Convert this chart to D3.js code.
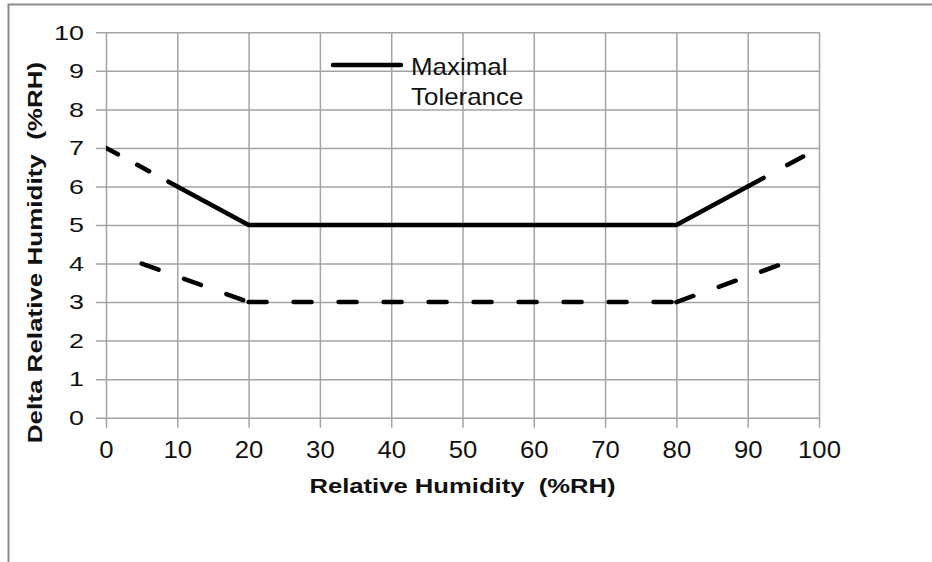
<!DOCTYPE html>
<html>
<head>
<meta charset="utf-8">
<script src="https://cdn.jsdelivr.net/npm/d3@7"></script>
<style>
    body { margin: 0; background: #fff; }
    svg { display: block; font-family: "Liberation Sans", Arial, sans-serif; }
</style>
</head>
<body>
<svg id="chart" width="932" height="562"></svg>
<script>
// data
var xTicks = [0, 10, 20, 30, 40, 50, 60, 70, 80, 90, 100];
var yTicks = [0, 1, 2, 3, 4, 5, 6, 7, 8, 9, 10];

var maxTolX = [10, 20, 80, 90];
var maxTolY = [6, 5, 5, 6];

var upperLeftX = [0, 10];
var upperLeftY = [7, 6];

var upperRightX = [90, 100];
var upperRightY = [6, 7];

var lowerX = [5, 20, 80, 95];
var lowerY = [4, 3, 3, 4];

var legendLabel = ["Maximal", "Tolerance"];

// series, drawn in this order (solid last so it sits on top)
var series = [
    {name: "upperLeft", xs: upperLeftX, ys: upperLeftY, dash: "13.5,22"},
    {name: "upperRight", xs: upperRightX, ys: upperRightY, dash: "18,27"},
    {name: "lower", xs: lowerX, ys: lowerY, dash: "18,27"},
    {name: "maxTol", xs: maxTolX, ys: maxTolY, dash: null}
];

var margin = {top: 32.3, left: 106};
var width = 713, height = 385.4;

var svg = d3.select("#chart");

// outer frame, only left and top edges are inside the picture
svg.append("rect")
    .attr("x", 8.5).attr("y", 4.5)
    .attr("width", 1000).attr("height", 1000)
    .attr("fill", "none")
    .attr("stroke", "#8c8c8c")
    .attr("stroke-width", 2);

var g = svg.append("g").attr("transform", "translate(" + margin.left + "," + margin.top + ")");

var x = d3.scaleLinear().domain([0, 100]).range([0, width]);
var y = d3.scaleLinear().domain([0, 10]).range([height, 0]);

// glyphs in the reference are drawn wider than normal
function widen(sel, k) {
    sel.each(function() {
        var len = this.getComputedTextLength();
        d3.select(this).attr("textLength", len * k).attr("lengthAdjust", "spacingAndGlyphs");
    });
}

// x axis: ticks run from the top of the plot down past the bottom -> grid + tick marks
var xAxis = g.append("g")
    .call(d3.axisBottom(x).tickValues(xTicks).tickSize(height + 10).tickPadding(13).tickFormat(d3.format("d")));
xAxis.select(".domain").remove();
xAxis.selectAll("line").attr("stroke", "#a3a3a3").attr("stroke-width", 1.5);
xAxis.selectAll("text").attr("font-size", 24).attr("fill", "#111").style("font-family", "inherit");
widen(xAxis.selectAll("text"), 1.07);

// y axis: anchored on the right edge, ticks run left past the plot
var yAxis = g.append("g")
    .attr("transform", "translate(" + width + ",0)")
    .call(d3.axisLeft(y).tickValues(yTicks).tickSize(width + 10).tickPadding(12).tickFormat(d3.format("d")));
yAxis.select(".domain").remove();
yAxis.selectAll("line").attr("stroke", "#a3a3a3").attr("stroke-width", 1.5);
yAxis.selectAll("text").attr("font-size", 21).attr("fill", "#111").style("font-family", "inherit");
widen(yAxis.selectAll("text"), 1.28);

// clip lines to plot area
svg.append("defs").append("clipPath").attr("id", "plotClip")
    .append("rect").attr("width", width).attr("height", height);

var linesG = g.append("g").attr("clip-path", "url(#plotClip)");

// excel restarts the dash pattern at every point, so draw segment by segment
series.forEach(function(s) {
    var segs = d3.range(s.xs.length - 1).map(function(i) {
        return [[s.xs[i], s.ys[i]], [s.xs[i + 1], s.ys[i + 1]]];
    });
    var sg = linesG.append("g").attr("class", "series-" + s.name);
    if (s.dash) {
        sg.selectAll("line").data(segs).enter().append("line")
            .attr("x1", function(d) { return x(d[0][0]); })
            .attr("y1", function(d) { return y(d[0][1]); })
            .attr("x2", function(d) { return x(d[1][0]); })
            .attr("y2", function(d) { return y(d[1][1]); })
            .attr("stroke", "#000")
            .attr("stroke-width", 4.5)
            .attr("stroke-linecap", "round")
            .attr("stroke-dasharray", s.dash);
    } else {
        var pts = s.xs.map(function(v, i) { return [v, s.ys[i]]; });
        sg.append("path")
            .attr("d", d3.line().x(function(d) { return x(d[0]); }).y(function(d) { return y(d[1]); })(pts))
            .attr("fill", "none")
            .attr("stroke", "#000")
            .attr("stroke-width", 4.5)
            .attr("stroke-linejoin", "round");
    }
});

// legend
var leg = svg.append("g").attr("transform", "translate(333,65)");
leg.append("line")
    .attr("x1", 0).attr("x2", 68)
    .attr("stroke", "#000").attr("stroke-width", 4.5).attr("stroke-linecap", "round");
leg.selectAll("text").data(legendLabel).enter().append("text")
    .attr("x", 78)
    .attr("y", function(d, i) { return 10 + i * 30; })
    .attr("font-size", 24)
    .attr("fill", "#111")
    .text(function(d) { return d; });
widen(leg.selectAll("text"), 1.08);

// axis titles
var xTitle = svg.append("text")
    .attr("x", margin.left + width / 2)
    .attr("y", 492.7)
    .attr("text-anchor", "middle")
    .attr("font-size", 21)
    .attr("font-weight", "bold")
    .attr("fill", "#111")
    .style("white-space", "pre")
    .text("Relative Humidity  (%RH)");
widen(xTitle, 1.22);

var yTitle = svg.append("text")
    .attr("transform", "translate(41.7,252.5) rotate(-90)")
    .attr("text-anchor", "middle")
    .attr("font-size", 20)
    .attr("font-weight", "bold")
    .attr("fill", "#111")
    .style("white-space", "pre")
    .text("Delta Relative Humidity  (%RH)");
widen(yTitle, 1.3);
</script>
</body>
</html>
